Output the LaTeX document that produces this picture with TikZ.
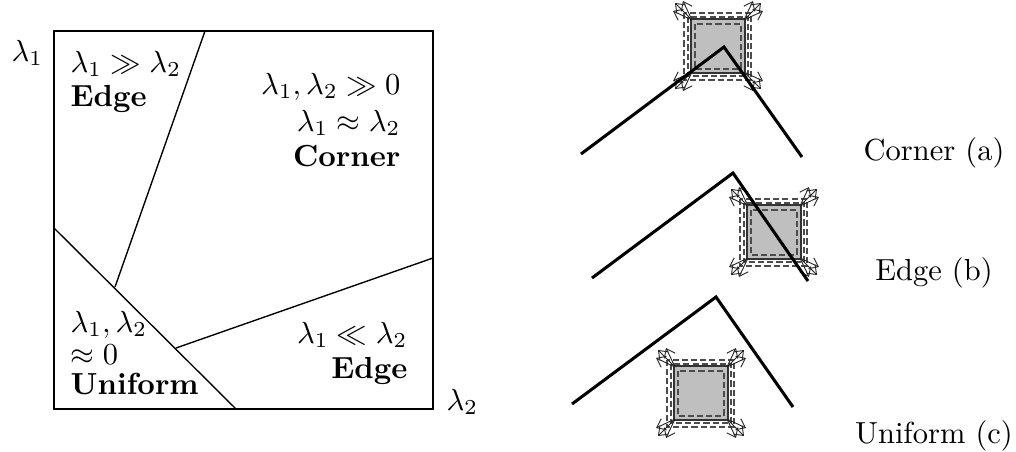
\documentclass[tikz,border=0pt]{standalone}
\usetikzlibrary{arrows.meta}
\begin{document}
\begin{tikzpicture}[x=0.328pt,y=-0.328pt,
  lbl/.style={inner sep=0pt},
  region/.style={line width=0.45pt},
  patch/.style={fill=gray!50, draw=gray!40!black, line width=0.9pt},
  dsq/.style={draw=black!70, dash pattern=on 2pt off 1pt, line width=0.35pt},
  mv/.style={-{Straight Barb[length=2.6pt,width=4pt]}, line width=0.3pt, draw=black!85},
  contour/.style={line width=1pt, line join=miter}
]
\useasboundingbox (0,0) rectangle (1016,451);

% ---------- left: eigenvalue classification ----------
\draw[region] (54,31) rectangle (433,409);
\coordinate (t1) at (205,31);
\coordinate (t2) at (115,287);
\coordinate (u1) at (54,228);
\coordinate (u2) at (236,409);
\coordinate (e1) at (176,348);
\coordinate (e2) at (433,258);
\draw[region] (t1) -- (t2);
\draw[region] (u1) -- (u2);
\draw[region] (e1) -- (e2);

\node[lbl,anchor=base west] (l1) at (11,61) {$\lambda_1$};
\node[lbl,anchor=base west] (l2) at (446,410) {$\lambda_2$};

\node[lbl,anchor=base west] (ea1) at (70,72) {$\lambda_1 \gg \lambda_2$};
\node[lbl,anchor=base west] (ea2) at (70,106) {\textbf{Edge}};

\node[lbl,anchor=base east] (c1) at (401,94) {$\lambda_1, \lambda_2 \gg 0$};
\node[lbl,anchor=base east] (c2) at (401,131) {$\lambda_1 \approx \lambda_2$};
\node[lbl,anchor=base east] (c3) at (401,166) {\textbf{Corner}};

\node[lbl,anchor=base west] (f1) at (70,332) {$\lambda_1, \lambda_2$};
\node[lbl,anchor=base west] (f2) at (70,364) {$\approx 0$};
\node[lbl,anchor=base west] (f3) at (70,394) {\textbf{Uniform}};

\node[lbl,anchor=base east] (eb1) at (408,343) {$\lambda_1 \ll \lambda_2$};
\node[lbl,anchor=base east] (eb2) at (408,378) {\textbf{Edge}};

% ---------- right: shifted windows ----------
\foreach \cx/\cy in {718/46, 774/232, 701/393} {
  \begin{scope}[shift={(\cx,\cy)}]
    \draw[dsq] (-34,-33) rectangle (33,34);
    \draw[dsq] (-30,-29) rectangle (30,30);
    \filldraw[patch] (-27,-27) rectangle (27,27);
    \draw[dsq] (-23,-22) rectangle (23,23);
    \foreach \sx/\sy in {-1/-1, 1/-1, -1/1, 1/1} {
      \draw[mv] (\sx*26,\sy*26) -- ++(\sx*17,\sy*17);
      \draw[mv] (\sx*26,\sy*26) -- ++(\sx*19,\sy*9);
      \draw[mv] (\sx*26,\sy*26) -- ++(\sx*9,\sy*19);
    }
  \end{scope}
}

\coordinate (a1) at (581,154);
\coordinate (a2) at (724,47);
\coordinate (a3) at (802,157);
\coordinate (b1) at (592,278);
\coordinate (b2) at (733,173);
\coordinate (b3) at (808,281);
\coordinate (d1) at (572,404);
\coordinate (d2) at (716,297);
\coordinate (d3) at (793,407);
\draw[contour] (a1) -- (a2) -- (a3);
\draw[contour] (b1) -- (b2) -- (b3);
\draw[contour] (d1) -- (d2) -- (d3);

\node[lbl,anchor=base] (na) at (934,160) {Corner (a)};
\node[lbl,anchor=base] (nb) at (934,280) {Edge (b)};
\node[lbl,anchor=base] (nc) at (934,443) {Uniform (c)};
\end{tikzpicture}
\end{document}
